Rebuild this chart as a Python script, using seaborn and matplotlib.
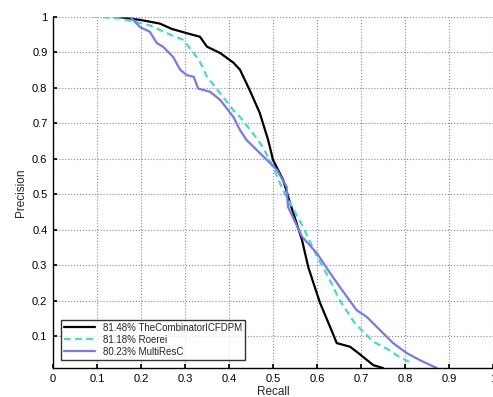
import matplotlib
matplotlib.use("Agg")
import matplotlib.pyplot as plt
import seaborn as sns
import pandas as pd

sns.set_theme(style="white")
plt.rcParams['font.family'] = ['Liberation Sans', 'DejaVu Sans']

labels = ["81.48% TheCombinatorICFDPM", "81.18% Roerei", "80.23% MultiResC"]

comb_recall = [0.141, 0.20, 0.243, 0.27, 0.304, 0.334, 0.35, 0.38, 0.41, 0.425, 0.448,
               0.47, 0.489, 0.50, 0.523, 0.539, 0.566, 0.58, 0.592, 0.607, 0.63, 0.645,
               0.675, 0.694, 0.728, 0.75]
comb_prec = [1.0, 0.99, 0.98, 0.965, 0.953, 0.943, 0.915, 0.897, 0.87, 0.85, 0.79,
             0.728, 0.652, 0.596, 0.54, 0.474, 0.37, 0.295, 0.249, 0.193, 0.125, 0.08,
             0.07, 0.052, 0.018, 0.01]

roer_recall = [0.088, 0.15, 0.22, 0.259, 0.296, 0.32, 0.334, 0.35, 0.38, 0.41, 0.425,
               0.455, 0.477, 0.50, 0.523, 0.539, 0.568, 0.60, 0.625, 0.652, 0.686,
               0.728, 0.758, 0.789, 0.81]
roer_prec = [1.0, 0.995, 0.975, 0.953, 0.934, 0.897, 0.872, 0.83, 0.784, 0.736, 0.717,
             0.67, 0.632, 0.577, 0.51, 0.474, 0.408, 0.324, 0.268, 0.20, 0.136,
             0.084, 0.065, 0.04, 0.027]

mrc_recall = [0.141, 0.175, 0.198, 0.22, 0.236, 0.25, 0.273, 0.289, 0.304, 0.32, 0.33,
              0.357, 0.38, 0.41, 0.425, 0.44, 0.463, 0.486, 0.509, 0.531, 0.534, 0.566,
              0.60, 0.625, 0.652, 0.69, 0.713, 0.743, 0.773, 0.804, 0.834, 0.872]
mrc_prec = [1.0, 1.0, 0.97, 0.957, 0.925, 0.915, 0.886, 0.85, 0.835, 0.83, 0.797,
            0.788, 0.765, 0.717, 0.68, 0.652, 0.624, 0.596, 0.568, 0.52, 0.464, 0.38,
            0.333, 0.286, 0.238, 0.173, 0.154, 0.117, 0.08, 0.052, 0.032, 0.01]

xticks = [0, 0.1, 0.2, 0.3, 0.4, 0.5, 0.6, 0.7, 0.8, 0.9, 1]
xticklabels = ["0", "0.1", "0.2", "0.3", "0.4", "0.5", "0.6", "0.7", "0.8", "0.9", "1"]
yticks = [0.1, 0.2, 0.3, 0.4, 0.5, 0.6, 0.7, 0.8, 0.9, 1]
yticklabels = ["0.1", "0.2", "0.3", "0.4", "0.5", "0.6", "0.7", "0.8", "0.9", "1"]

frames = []
for lab, r, p in [(labels[0], comb_recall, comb_prec),
                  (labels[1], roer_recall, roer_prec),
                  (labels[2], mrc_recall, mrc_prec)]:
    frames.append(pd.DataFrame({"Recall": r, "Precision": p, "method": lab}))
df = pd.concat(frames, ignore_index=True)

fig = plt.figure(figsize=(4.93, 3.97), dpi=100)
ax = fig.add_axes([53/493, 1-368/397, 1-53/493, (368-16.5)/397])

palette = {labels[0]: "black", labels[1]: "#3ee0bd", labels[2]: "#7878f0"}
sns.lineplot(data=df, x="Recall", y="Precision", hue="method", style="method",
             palette=palette, dashes={labels[0]: "", labels[1]: (3, 2), labels[2]: ""},
             sort=False, estimator=None, linewidth=1.6, ax=ax, legend=True)

ax.set_xlim(0, 1)
ax.set_ylim(0.01, 1)
ax.set_xticks(xticks)
ax.set_xticklabels(xticklabels)
ax.set_yticks(yticks)
ax.set_yticklabels(yticklabels)
ax.tick_params(direction='in', length=3, labelsize=8, colors='black', pad=4,
               bottom=True, left=True)
ax.grid(True, linestyle=':', color='#8a8a8a', linewidth=0.8)
for s in ['top', 'right']:
    ax.spines[s].set_visible(False)
for s in ['left', 'bottom']:
    ax.spines[s].set_color('black')
    ax.spines[s].set_linewidth(1.0)
ax.set_xlabel("Recall", fontsize=8.5, labelpad=1)
ax.set_ylabel("Precision", fontsize=8.5, labelpad=4)
ax.xaxis.set_label_coords(0.5, -0.05)

leg = ax.legend(loc='lower left', fontsize=7, frameon=True, fancybox=False,
                handlelength=3.2, borderpad=0.3, labelspacing=0.2,
                bbox_to_anchor=(0.007, 0.01))
leg.get_frame().set_edgecolor('black')
leg.get_frame().set_linewidth(1.0)

fig.savefig("out.png", dpi=100)
